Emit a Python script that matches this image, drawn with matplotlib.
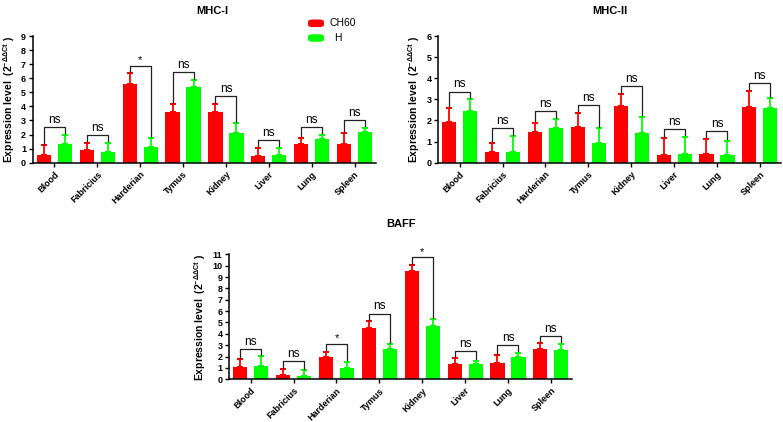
import numpy as np
import matplotlib
matplotlib.use('Agg')
import matplotlib.pyplot as plt
from matplotlib.patches import FancyBboxPatch

plt.rcParams['font.family'] = ['Liberation Sans', 'DejaVu Sans']

tissues = ['Blood', 'Fabricius', 'Harderian', 'Tymus', 'Kidney', 'Liver', 'Lung', 'Spleen']

# MHC-I
mhc1_ch60 = [0.52, 0.90, 5.59, 3.63, 3.60, 0.47, 1.30, 1.30]
mhc1_ch60_err = [0.74, 0.47, 0.76, 0.52, 0.57, 0.60, 0.48, 0.83]
mhc1_h = [1.33, 0.73, 1.09, 5.36, 2.13, 0.52, 1.66, 2.16]
mhc1_h_err = [0.67, 0.69, 0.64, 0.52, 0.67, 0.55, 0.34, 0.34]
mhc1_sig = ['ns', 'ns', '*', 'ns', 'ns', 'ns', 'ns', 'ns']

# MHC-II
mhc2_ch60 = [1.94, 0.49, 1.44, 1.71, 2.69, 0.35, 0.41, 2.65]
mhc2_ch60_err = [0.67, 0.43, 0.46, 0.66, 0.56, 0.80, 0.73, 0.76]
mhc2_h = [2.45, 0.52, 1.63, 0.92, 1.39, 0.39, 0.35, 2.57]
mhc2_h_err = [0.55, 0.74, 0.44, 0.71, 0.79, 0.84, 0.69, 0.49]
mhc2_sig = ['ns'] * 8

# BAFF
baff_ch60 = [1.11, 0.41, 1.99, 4.49, 9.53, 1.38, 1.41, 2.67]
baff_ch60_err = [0.65, 0.50, 0.44, 0.64, 0.53, 0.47, 0.73, 0.50]
baff_h = [1.20, 0.32, 0.97, 2.64, 4.69, 1.32, 1.99, 2.58]
baff_h_err = [0.82, 0.47, 0.58, 0.44, 0.62, 0.32, 0.36, 0.56]
baff_sig = ['ns', 'ns', '*', 'ns', '*', 'ns', 'ns', 'ns']

red = '#ff0000'
green = '#00ff00'


def panel(ax, ch60, ch60_err, h, h_err, sig, ymax, title):
    x = np.arange(len(tissues))
    off = 0.245
    w = 0.33
    ax.bar(x - off, ch60, w, color=red, yerr=[np.zeros(8), ch60_err],
           error_kw=dict(ecolor=red, elinewidth=1.3, capsize=2.5, capthick=1.5))
    ax.bar(x + off, h, w, color=green, yerr=[np.zeros(8), h_err],
           error_kw=dict(ecolor=green, elinewidth=1.3, capsize=2.5, capthick=1.5))

    # significance brackets
    for i in range(len(tissues)):
        t1 = ch60[i] + ch60_err[i]
        t2 = h[i] + h_err[i]
        top = max(t1, t2) + 0.06 * ymax
        gap = 0.01 * ymax
        ax.plot([i - off, i - off, i + off, i + off], [t1 + gap, top, top, t2 + gap],
                color='#222222', lw=0.9)
        if sig[i] == '*':
            ax.text(i, top + 0.005 * ymax, '*', ha='center', va='bottom', fontsize=8)
        else:
            ax.text(i, top + 0.01 * ymax, sig[i], ha='center', va='bottom', fontsize=8.5)

    ax.set_xlim(-0.5, 7.5)
    ax.set_ylim(0, ymax)
    ax.set_yticks(range(0, ymax + 1))
    ax.set_xticks(x)
    ax.set_xticklabels(tissues, rotation=45, ha='right', rotation_mode='anchor',
                       fontsize=6.5, fontweight='bold')
    for lab in ax.get_yticklabels():
        lab.set_fontsize(6.5)
        lab.set_fontweight('bold')
    ax.tick_params(axis='both', direction='out', length=3, width=1, pad=2)
    ax.spines['top'].set_visible(False)
    ax.spines['right'].set_visible(False)
    ax.spines['left'].set_linewidth(1.1)
    ax.spines['bottom'].set_linewidth(1.1)
    ax.set_ylabel(r'Expression level  $\mathregular{(2^{-\Delta\Delta Ct}\ )}$',
                  fontsize=7.5, fontweight='bold', labelpad=3)


fig = plt.figure(figsize=(7.83, 4.22), dpi=100)
W, H = 783.0, 422.0

ax1 = fig.add_axes([33 / W, 1 - 162.7 / H, 343 / W, 126.7 / H])
ax2 = fig.add_axes([438.3 / W, 1 - 162.7 / H, 343 / W, 126.7 / H])
ax3 = fig.add_axes([229.3 / W, 1 - 379.3 / H, 343 / W, 125 / H])

panel(ax1, mhc1_ch60, mhc1_ch60_err, mhc1_h, mhc1_h_err, mhc1_sig, 9, 'MHC-I')
panel(ax2, mhc2_ch60, mhc2_ch60_err, mhc2_h, mhc2_h_err, mhc2_sig, 6, 'MHC-II')
panel(ax3, baff_ch60, baff_ch60_err, baff_h, baff_h_err, baff_sig, 11, 'BAFF')

fig.text(212 / W, 1 - 11 / H, 'MHC-I', ha='center', va='center', fontsize=8, fontweight='bold')
fig.text(610 / W, 1 - 11 / H, 'MHC-II', ha='center', va='center', fontsize=8, fontweight='bold')
fig.text(401 / W, 1 - 224 / H, 'BAFF', ha='center', va='center', fontsize=8, fontweight='bold')

# legend
for yc, col, lab, dx in [(23.3, red, 'CH60', 329.5), (38, green, 'H', 334)]:
    p = FancyBboxPatch((308 / W, 1 - (yc + 3.8) / H), 16 / W, 7.6 / H,
                       boxstyle='round,pad=0,rounding_size=0.006',
                       transform=fig.transFigure, facecolor=col, edgecolor='none')
    fig.patches.append(p)
    fig.text(dx / W, 1 - yc / H, lab, ha='left', va='center', fontsize=7.5)

fig.savefig('out.png', dpi=100)
